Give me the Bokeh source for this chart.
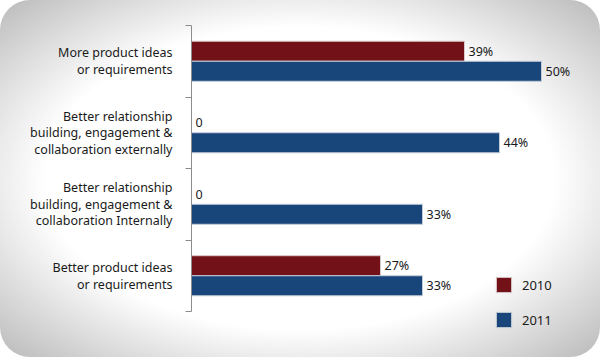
from bokeh.plotting import figure
from bokeh.models import Range1d, FixedTicker, ColumnDataSource, Legend, LegendItem
from bokeh.core.properties import value
from bokeh.embed import file_html
from bokeh.resources import INLINE

# ---- data ----
categories = [
    "More product ideas\nor requirements",
    "Better relationship\nbuilding, engagement &\ncollaboration externally",
    "Better relationship\nbuilding, engagement &\ncollaboration Internally",
    "Better product ideas\nor requirements",
]
series = ["2010", "2011"]
values_2010 = [39, 0, 0, 27]
values_2011 = [50, 44, 33, 33]
labels_2010 = ["39%", "0", "0", "27%"]
labels_2011 = ["50%", "44%", "33%", "33%"]
colors = ["#721117", "#18457a"]

FONT = "Noto Sans"
W, H = 600, 357
n = len(categories)
ypos = [n - i for i in range(n)]           # top category highest
bar_h = 0.28

src = ColumnDataSource(dict(
    y10=[y + bar_h / 2 for y in ypos],
    y11=[y - bar_h / 2 for y in ypos],
    v10=values_2010, v11=values_2011,
    l10=labels_2010, l11=labels_2011,
))

top, bottom = 25, 5
frame_h = H - top - bottom
p = figure(width=W, height=H, output_backend="svg", toolbar_location=None,
           x_axis_location=None,
           x_range=Range1d(0, 56), y_range=Range1d(n + 0.5 - frame_h / 71.5, n + 0.5),
           min_border_left=191, min_border_right=17, min_border_top=top,
           min_border_bottom=bottom)
p.border_fill_color = None
p.background_fill_color = None
p.outline_line_color = None
p.grid.visible = False
p.styles = {
    "background": "radial-gradient(ellipse farthest-corner at 50% 50%, #ffffff 60%, #bababa 100%)",
    "border-radius": "30px",
}

r10 = p.hbar(y="y10", left=0, right="v10", height=bar_h, source=src,
             fill_color=colors[0], line_color="#d9c8c8", line_width=1)
r11 = p.hbar(y="y11", left=0, right="v11", height=bar_h, source=src,
             fill_color=colors[1], line_color="#c4ccd8", line_width=1)

for yk, vk, lk in (("y10", "v10", "l10"), ("y11", "v11", "l11")):
    p.text(x=vk, y=yk, text=lk, source=src, x_offset=4, text_baseline="middle",
           text_align="left", text_font=value(FONT), text_font_size="12.5px",
           text_color="#1a1a1a")

ax = p.yaxis[0]
ax.ticker = FixedTicker(ticks=ypos, minor_ticks=[y + 0.5 for y in range(n + 1)])
ax.major_label_overrides = {y: c for y, c in zip(ypos, categories)}
ax.bounds = (0.5, n + 0.5)
ax.axis_line_color = "#8c8c8c"
ax.major_tick_line_color = None
ax.major_tick_out = 0
ax.major_tick_in = 0
ax.minor_tick_line_color = "#8c8c8c"
ax.minor_tick_out = 6
ax.minor_tick_in = 0
ax.major_label_standoff = 13
ax.major_label_text_font = FONT
ax.major_label_text_font_size = "12.5px"
ax.major_label_text_color = "#1a1a1a"
ax.major_label_text_line_height = 0.98

legend = Legend(items=[LegendItem(label=series[0], renderers=[r10]),
                       LegendItem(label=series[1], renderers=[r11])],
                location=(303, 23), glyph_width=19, glyph_height=19, label_height=19,
                spacing=16, padding=0, margin=0, label_standoff=9,
                border_line_color=None, background_fill_alpha=0,
                label_text_font=FONT, label_text_font_size="13px",
                label_text_color="#1a1a1a")
p.add_layout(legend)

open("out.html", "w").write(file_html(p, INLINE))
